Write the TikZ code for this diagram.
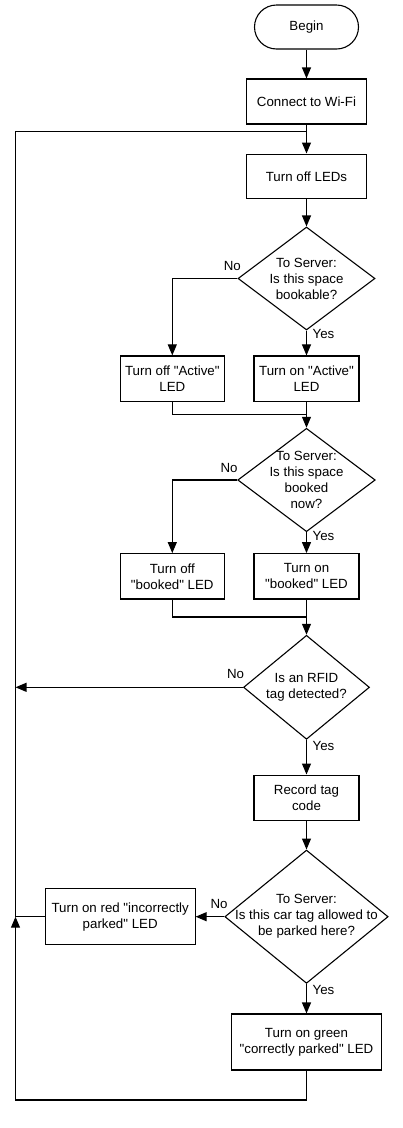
\documentclass[tikz,border=0pt]{standalone}
\usepackage{fontspec}
\setmainfont{Liberation Sans}
\usetikzlibrary{shapes.geometric,arrows.meta,calc}
\newcommand{\fsz}{\fontsize{13.3}{16}\selectfont}
\newcommand{\q}{\textquotedbl}
\tikzset{
  line/.style={line width=1.1pt},
  arr/.style={line width=1.1pt, -{Triangle[length=11pt,width=9pt]}},
  box/.style={draw, line width=1.1pt, inner sep=2pt, align=center, font=\fsz},
  term/.style={box, rounded corners=22pt, minimum width=104pt, minimum height=44pt},
  dec/.style={draw, diamond, line width=1.1pt, inner sep=0pt, font=\fsz},
  lbl/.style={inner sep=0pt, font=\fsz, align=center},
}
\begin{document}
\begin{tikzpicture}[x=1pt,y=-1pt]
\useasboundingbox (0,0) rectangle (403,1128);
% nodes
\node[term] (begin) at (306.5,27) {Begin};
\node[box, minimum width=119.5pt, minimum height=45pt] (wifi) at (306.5,101.5) {Connect to Wi-Fi};
\node[box, minimum width=119.5pt, minimum height=44.5pt] (ledsoff) at (306.5,176.3) {Turn off LEDs};
\node[dec, minimum width=137pt, minimum height=103pt,
  label={[lbl]center:{To Server:\\Is this space\\bookable?}}] (d1) at (306.5,278.5) {};
\node[box, minimum width=104.5pt, minimum height=45.7pt] (offact) at (172.3,378.8) {Turn off \q Active\q\\LED};
\node[box, minimum width=105pt, minimum height=45.7pt] (onact) at (306.5,378.8) {Turn on \q Active\q\\LED};
\node[dec, minimum width=137.5pt, minimum height=103.4pt,
  label={[lbl]center:{To Server:\\Is this space\\booked\\now?}}] (d2) at (306.5,480) {};
\node[box, minimum width=104.5pt, minimum height=45.3pt] (offbook) at (172.3,576.3) {Turn off\\\q booked\q{} LED};
\node[box, minimum width=105pt, minimum height=45.3pt] (onbook) at (306.5,576.3) {Turn on\\\q booked\q{} LED};
\node[dec, minimum width=126pt, minimum height=104pt,
  label={[lbl]center:{Is an RFID\\tag detected?}}] (d3) at (306.5,687.3) {};
\node[box, minimum width=105pt, minimum height=45.3pt] (record) at (306.5,797.7) {Record tag\\code};
\node[dec, minimum width=163.3pt, minimum height=133.3pt,
  label={[lbl]center:{To Server:\\Is this car tag allowed to\\be parked here?}}] (d4) at (306.5,916.7) {};
\node[box, minimum width=149.7pt, minimum height=56pt] (red) at (120.2,916.7) {Turn on red \q incorrectly\\parked\q{} LED};
\node[box, minimum width=149.3pt, minimum height=56pt] (green) at (306.5,1042) {Turn on green\\\q correctly parked\q{} LED};
% branch labels
\node[lbl] (no1) at (232.3,265.5) {No};
\node[lbl] (yes1) at (323.5,333.5) {Yes};
\node[lbl] (no2) at (229,467.7) {No};
\node[lbl] (yes2) at (323.5,535.8) {Yes};
\node[lbl] (no3) at (235.5,674.3) {No};
\node[lbl] (yes3) at (323.5,746) {Yes};
\node[lbl] (no4) at (219,904.3) {No};
\node[lbl] (yes4) at (323.5,990.2) {Yes};
% junction coordinates
\coordinate (m1) at (306.5,414.3);
\coordinate (m2) at (306.5,617);
\coordinate (jt) at (306.5,131.5);
\coordinate (lt) at (15.5,131.5);
\coordinate (lm) at (15.5,687.3);
\coordinate (la) at (15.5,916.7);
\coordinate (lb) at (15.5,1100);
% connectors
\draw[arr] (begin.south) -- (wifi.north);
\draw[arr] (wifi.south) -- (ledsoff.north);
\draw[line] (red.west) -- (la) -- (lt) -- (jt);
\draw[arr] (ledsoff.south) -- (d1.north);
\draw[arr] (d1.west) -| (offact.north);
\draw[arr] (d1.south) -- (onact.north);
\draw[line] (offact.south) |- (m1);
\draw[arr] (onact.south) -- (d2.north);
\draw[arr] (d2.west) -| (offbook.north);
\draw[arr] (d2.south) -- (onbook.north);
\draw[line] (offbook.south) |- (m2);
\draw[arr] (onbook.south) -- (d3.north);
\draw[arr] (d3.west) -- (lm);
\draw[arr] (d3.south) -- (record.north);
\draw[arr] (record.south) -- (d4.north);
\draw[arr] (d4.west) -- (red.east);
\draw[arr] (d4.south) -- (green.north);
\draw[arr] (green.south) |- (lb) -- (la);
\end{tikzpicture}
\end{document}
